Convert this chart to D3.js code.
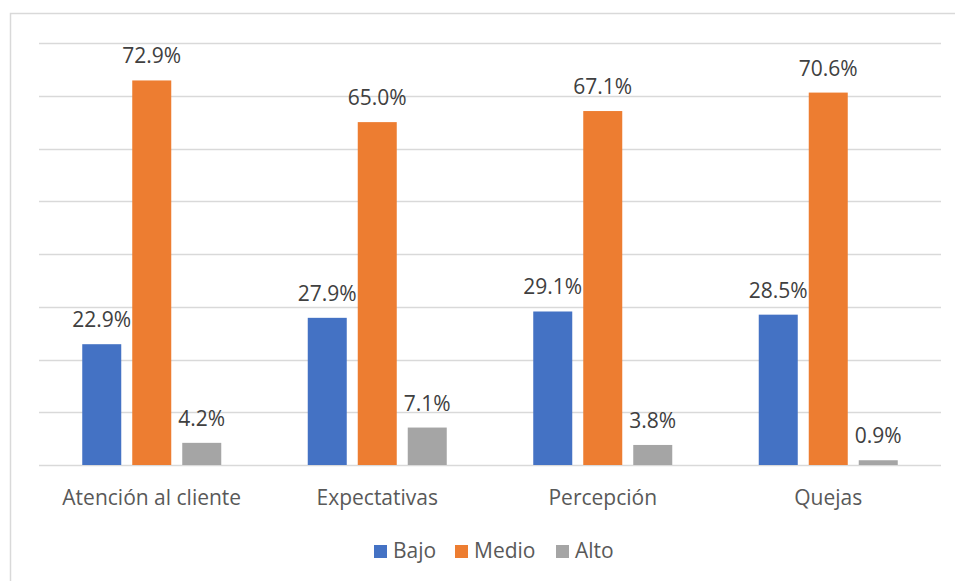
<!DOCTYPE html>
<html><head><meta charset="utf-8">
<script src="https://cdn.jsdelivr.net/npm/d3@7"></script>
<style>body{margin:0;background:#fff}svg{display:block}</style>
</head><body>
<svg id="c" width="955" height="581"></svg>
<script>
const categories = ["Atención al cliente", "Expectativas", "Percepción", "Quejas"];
const seriesNames = ["Bajo", "Medio", "Alto"];
const bajo  = [22.9, 27.9, 29.1, 28.5];
const medio = [72.9, 65.0, 67.1, 70.6];
const alto  = [4.2, 7.1, 3.8, 0.9];
const yTicks = [0, 10, 20, 30, 40, 50, 60, 70, 80];
const colors = ["#4472C4", "#ED7D31", "#A5A5A5"];
const seriesValues = [bajo, medio, alto];

(function () {
const svg = d3.select("#c");
const font = "'Open Sans', 'Noto Sans', sans-serif";
const fs = 21;
svg.append("rect").attr("x", 10.5).attr("y", 13.5).attr("width", 960).attr("height", 600)
  .attr("fill", "#fff").attr("stroke", "#d9d9d9").attr("stroke-width", 1.5);

const pL = 39, pR = 941, pT = 43, pB = 465;
const x = d3.scaleBand().domain(categories).range([pL, pR]).paddingInner(0).paddingOuter(0);
const y = d3.scaleLinear().domain([0, 80]).range([pB, pT]);

svg.append("g").selectAll("line").data(yTicks).join("line")
  .attr("x1", pL).attr("x2", pR)
  .attr("y1", d => Math.round(y(d)) + 0.5).attr("y2", d => Math.round(y(d)) + 0.5)
  .attr("stroke", "#d9d9d9").attr("stroke-width", 1.3);

const barW = 39, step = 50;
const x1 = d3.scaleBand().domain(seriesNames)
  .range([x.bandwidth() / 2 - 1.5 * step, x.bandwidth() / 2 + 1.5 * step]);

const data = [];
categories.forEach((c, i) => seriesNames.forEach((s, j) => data.push({c, s, j, v: seriesValues[j][i]})));

const bars = svg.append("g");
bars.selectAll("rect").data(data).join("rect")
  .attr("x", d => x(d.c) + x1(d.s) + (step - barW) / 2)
  .attr("width", barW)
  .attr("y", d => y(d.v))
  .attr("height", d => y(0) - y(d.v))
  .attr("fill", d => colors[d.j]);

bars.selectAll("text").data(data).join("text")
  .attr("x", d => x(d.c) + x1(d.s) + step / 2)
  .attr("y", d => y(d.v) - 17)
  .attr("text-anchor", "middle")
  .attr("font-family", font).attr("font-size", fs).attr("fill", "#404040")
  .text(d => d.v.toFixed(1) + "%");

svg.append("g").selectAll("text").data(categories).join("text")
  .attr("x", d => x(d) + x.bandwidth() / 2)
  .attr("y", 505)
  .attr("text-anchor", "middle")
  .attr("font-family", font).attr("font-size", fs).attr("fill", "#595959")
  .text(d => d);

const legX = [374, 455, 556];
const leg = svg.append("g").selectAll("g").data(seriesNames).join("g")
  .attr("transform", (d, i) => `translate(${legX[i]},545)`);
leg.append("rect").attr("width", 13).attr("height", 13).attr("fill", (d, i) => colors[i]);
leg.append("text").attr("x", 19).attr("y", 13)
  .attr("font-family", font).attr("font-size", fs).attr("fill", "#595959")
  .text(d => d);
})();
</script>
</body></html>
